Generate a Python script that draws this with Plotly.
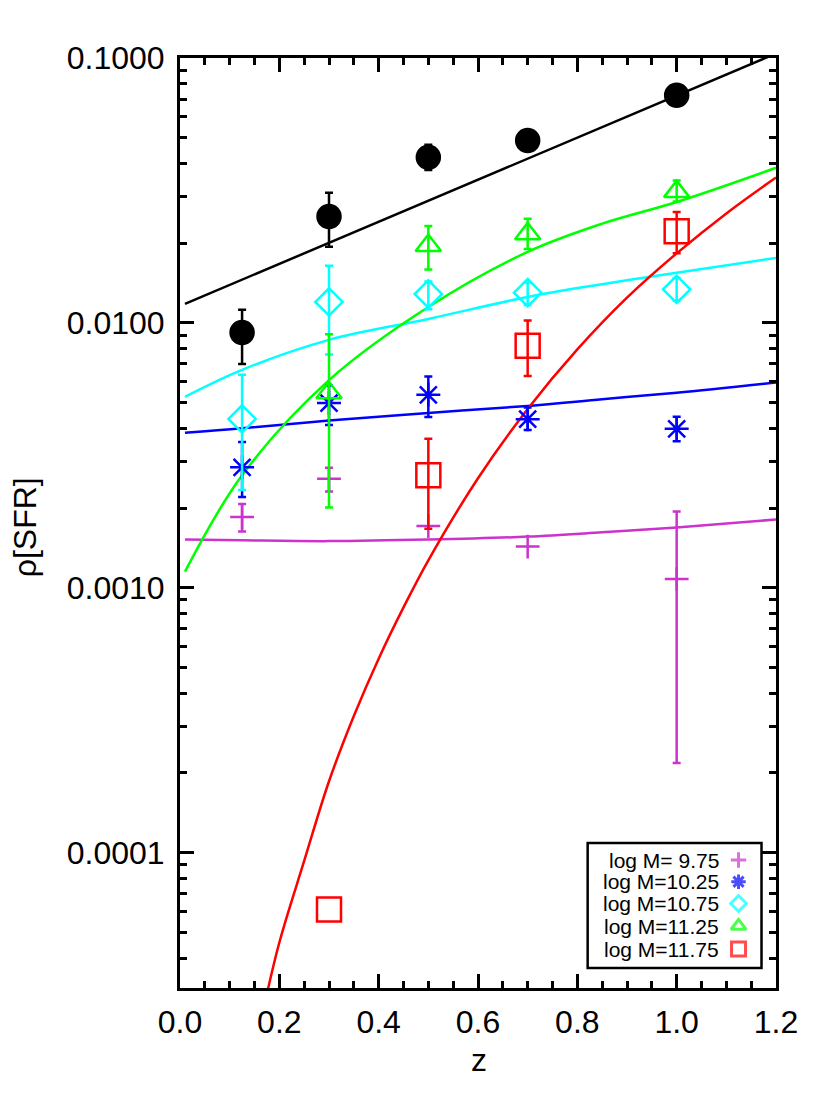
import plotly.graph_objects as go

# measured points (z, rho[SFR]) with error-bar ends (equal to the value where no bar is drawn)
z_pts = [0.125, 0.3, 0.5, 0.7, 1.0]

tot = [0.0092, 0.0252, 0.0422, 0.0488, 0.0724]
tot_hi = [0.0112, 0.0310, 0.0470, 0.0488, 0.0724]
tot_lo = [0.0070, 0.0194, 0.0378, 0.0488, 0.0724]

m975 = [0.00185, 0.00258, 0.00171, 0.00143, 0.00108]
m975_hi = [0.00207, 0.00284, 0.00171, 0.00143, 0.00194]
m975_lo = [0.00163, 0.00231, 0.00171, 0.00143, 0.000218]

m1025 = [0.00285, 0.00498, 0.00535, 0.00433, 0.00398]
m1025_hi = [0.00355, 0.00580, 0.00627, 0.00479, 0.00442]
m1025_lo = [0.00220, 0.00412, 0.00441, 0.00394, 0.00357]

m1075 = [0.00434, 0.0120, 0.01285, 0.0130, 0.01339]
m1075_hi = [0.00637, 0.01644, 0.01432, 0.01419, 0.01478]
m1075_lo = [0.00234, 0.0076, 0.01127, 0.01167, 0.01213]

z_hi = [0.3, 0.5, 0.7, 1.0]
m1125 = [0.00545, 0.0196, 0.0217, 0.0313]
m1125_hi = [0.00906, 0.0232, 0.0247, 0.0345]
m1125_lo = [0.00201, 0.0159, 0.0190, 0.0287]

m1175 = [0.000061, 0.00266, 0.0082, 0.0222]
m1175_hi = [0.000061, 0.00365, 0.0102, 0.0262]
m1175_lo = [0.000061, 0.00167, 0.0063, 0.0183]

# model curves
fit_tot_z = [0.01, 1.2]
fit_tot = [0.0118, 0.104]

fit_z = [0.01, 0.125, 0.3, 0.5, 0.7, 0.85, 1.0, 1.2]
fit_975 = [0.00152, 0.00151, 0.00150, 0.00152, 0.00156, 0.00162, 0.00169, 0.00181]
fit_1025 = [0.00385, 0.00400, 0.00428, 0.00457, 0.00486, 0.00515, 0.00545, 0.00596]
fit_1075 = [0.00526, 0.00665, 0.00863, 0.01035, 0.01253, 0.01400, 0.01545, 0.01758]
fit_1125 = [0.00115, 0.00266, 0.00608, 0.01148, 0.01854, 0.0237, 0.0286, 0.0385]

fit_1175_z = [0.17, 0.2, 0.25, 0.3, 0.35, 0.4, 0.45, 0.5, 0.6, 0.7, 0.8, 0.9, 1.0, 1.1, 1.2]
fit_1175 = [2.66e-5, 4.58e-5, 9.3e-5, 1.86e-4, 3.28e-4, 5.4e-4, 8.43e-4, 1.27e-3, 2.59e-3,
            4.73e-3, 7.94e-3, 1.245e-2, 1.83e-2, 2.59e-2, 3.54e-2]

leg_labels = ["log M= 9.75", "log M=10.25", "log M=10.75", "log M=11.25", "log M=11.75"]

MAG = "#cc33cc"
BLUE = "#0000ff"
CYAN = "#00ffff"
GREEN = "#00ff00"
RED = "#ff0000"
FONT = "Liberation Sans, Arial, sans-serif"

# the page body adds 8px around the figure; plot area in reference pixels is
# x 180..776.5, y 57.7..988
OFF = 8
PX0, PX1, PY0, PY1 = 180, 776.5, 57.7, 988


def paper_x(px):
    return (px - PX0) / (PX1 - PX0)


def paper_y(py):
    return (PY1 - py) / (PY1 - PY0)


fig = go.Figure()

# curves
for zz, yy, col in [(fit_tot_z, fit_tot, "black"), (fit_z, fit_975, MAG),
                    (fit_z, fit_1025, BLUE), (fit_z, fit_1075, CYAN),
                    (fit_z, fit_1125, GREEN), (fit_1175_z, fit_1175, RED)]:
    fig.add_trace(go.Scatter(x=zz, y=yy, mode="lines", line=dict(color=col, width=2.5, shape="spline"),
                             showlegend=False, hoverinfo="skip"))

# points
series = [
    (z_pts, tot, tot_hi, tot_lo, "black", "circle", 23),
    (z_pts, m975, m975_hi, m975_lo, MAG, "cross-thin-open", 17),
    (z_pts, m1025, m1025_hi, m1025_lo, BLUE, "asterisk-open", 20),
    (z_pts, m1075, m1075_hi, m1075_lo, CYAN, "diamond-open", 21),
    (z_hi, m1125, m1125_hi, m1125_lo, GREEN, "triangle-up-open", 22),
    (z_hi, m1175, m1175_hi, m1175_lo, RED, "square-open", 24),
]
for zz, v, hi, lo, col, sym, sz in series:
    mk = dict(symbol=sym, size=sz, color=col, line=dict(color=col, width=2.5))
    with_err = [i for i in range(len(v)) if hi[i] != v[i] or lo[i] != v[i]]
    no_err = [i for i in range(len(v)) if i not in with_err]
    if with_err:
        fig.add_trace(go.Scatter(
            x=[zz[i] for i in with_err], y=[v[i] for i in with_err], mode="markers",
            error_y=dict(type="data", symmetric=False,
                         array=[hi[i] - v[i] for i in with_err],
                         arrayminus=[v[i] - lo[i] for i in with_err],
                         color=col, thickness=2.5, width=4),
            marker=mk, showlegend=False))
    if no_err:
        fig.add_trace(go.Scatter(
            x=[zz[i] for i in no_err], y=[v[i] for i in no_err], mode="markers",
            marker=mk, showlegend=False))

# legend drawn in a pixel-coordinate overlay (symbols on the right, as in the original)
leg_y = [860, 881.7, 903.5, 926, 949]
fig.add_trace(go.Scatter(
    x=[739] * 5, y=leg_y, xaxis="x2", yaxis="y2", mode="markers", showlegend=False,
    marker=dict(symbol=[s[5] for s in series[1:]], size=[11, 12, 12, 13, 14],
                color=[s[4] for s in series[1:]],
                line=dict(color=[s[4] for s in series[1:]], width=3)),
    hoverinfo="skip"))
for lab, yy in zip(leg_labels, leg_y):
    fig.add_annotation(x=720, y=yy, xref="x2", yref="y2", text=lab, showarrow=False,
                       xanchor="right", yanchor="middle", borderpad=0,
                       font=dict(size=21, color="black", family=FONT))
fig.add_shape(type="rect", xref="x2", yref="y2", x0=588, x1=762, y0=843, y1=968,
              line=dict(color="black", width=2.5), fillcolor="white", layer="below")

# axis titles
fig.add_annotation(x=paper_x(479), y=paper_y(1060), xref="paper", yref="paper", text="z",
                   showarrow=False, xanchor="center", yanchor="middle", borderpad=0,
                   font=dict(size=32, color="black", family=FONT))
fig.add_annotation(x=paper_x(25), y=paper_y(527), xref="paper", yref="paper", text="ρ[SFR]",
                   showarrow=False, xanchor="center", yanchor="middle", textangle=-90,
                   font=dict(size=32, color="black", family=FONT))

axis_common = dict(showline=True, linecolor="black", linewidth=3, mirror="allticks",
                   ticks="inside", ticklen=14, tickwidth=2.5, tickcolor="black",
                   showgrid=False, zeroline=False,
                   tickfont=dict(size=32, color="black", family=FONT))

fig.update_layout(
    width=830, height=1107,
    margin=dict(l=PX0 - OFF, r=830 - PX1 + OFF, t=PY0 - OFF, b=1107 - PY1 + OFF),
    paper_bgcolor="white", plot_bgcolor="white",
    font=dict(family=FONT, color="black"),
    xaxis=dict(range=[0, 1.2], dtick=0.2, tickformat=".1f", ticklabelstandoff=4,
               minor=dict(dtick=0.05, ticks="inside", ticklen=7, tickwidth=2.5, tickcolor="black"),
               **axis_common),
    yaxis=dict(type="log", range=[-4.511, -1],
               tickvals=[1e-4, 1e-3, 1e-2, 1e-1],
               ticktext=["0.0001", "0.0010", "0.0100", "0.1000"],
               ticklabelstandoff=6,
               minor=dict(dtick="D1", ticks="inside", ticklen=7, tickwidth=2.5, tickcolor="black"),
               **axis_common),
    xaxis2=dict(overlaying="x", range=[PX0, PX1], visible=False),
    yaxis2=dict(overlaying="y", range=[PY1, PY0], visible=False),
)

fig.write_html("out.html")
